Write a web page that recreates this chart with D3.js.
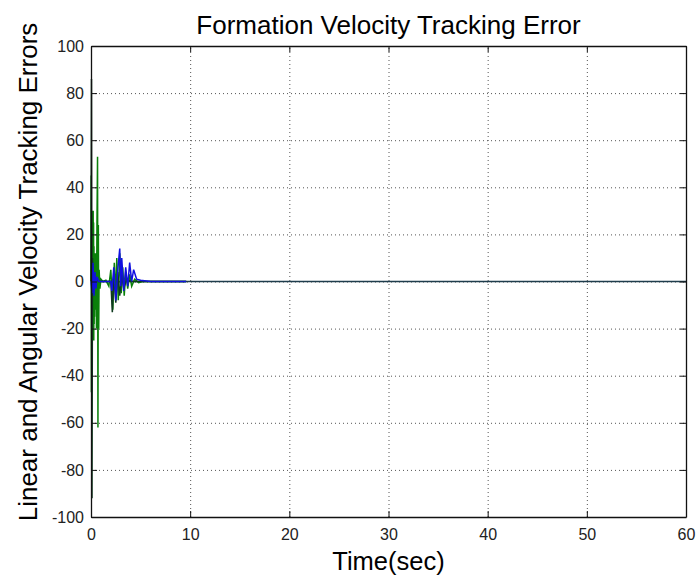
<!DOCTYPE html>
<html>
<head>
<meta charset="utf-8">
<script src="https://cdn.jsdelivr.net/npm/d3@7"></script>
<style>
  body { margin: 0; background: #fff; }
  svg { display: block; }
</style>
</head>
<body>
<div id="chart"></div>
<script>
// tick values
const xTicks = [0, 10, 20, 30, 40, 50, 60];
const yTicks = [-100, -80, -60, -40, -20, 0, 20, 40, 60, 80, 100];

// green trace (time, value)
const greenT = [0, 0.02, 0.04, 0.06, 0.08, 0.1, 0.12, 0.14, 0.16, 0.18, 0.2, 0.22, 0.24, 0.26, 0.28, 0.3, 0.32, 0.34, 0.36, 0.38, 0.4, 0.42, 0.44, 0.46, 0.5, 0.55, 0.6, 0.66, 0.7, 0.74, 0.78, 0.82, 0.9, 1.0, 1.2, 1.5, 1.8, 2.0, 2.2, 2.35, 2.5, 2.6, 2.75, 2.9, 3.05, 3.2, 3.35, 3.5, 3.7, 3.9, 4.1, 4.4, 4.8, 5.2, 9.6];
const greenV = [0, 45, -47, 28, -30, 30, -22, 20, -25, 18, -10, 30, -20, 25, -25, 15, -18, 10, -15, 12, -12, 5, -10, 8, 12, -20, 24, 53, -62, 24, -20, 5, -3, 1, 0, 0.5, -2, 5, -12, 8, -6, 10, -8, 12, -5, 6, -6, 4, -3, 3, -2, 1, -0.5, 0, 0];

// dark trace, the tall first spike and the dip near t = 2
const darkT = [0, 0.05, 0.1, 0.15, 0.2, 0.3, 0.4, 0.6, 0.8, 1.0, 2.0, 2.15, 2.3, 2.5, 2.7, 2.9, 3.1, 3.3, 3.6, 4.0, 9.6];
const darkV = [0, 86, -92, 10, -5, 3, -2, 1, 0, 0, 0, -13, 3, -9, 4, -6, 3, -3, 1, 0, 0];

// blue trace
const blueT = [0, 0.1, 0.2, 0.3, 0.4, 0.5, 0.6, 0.8, 2.0, 2.1, 2.3, 2.5, 2.7, 2.9, 3.0, 3.1, 3.3, 3.5, 3.7, 3.9, 4.1, 4.3, 4.6, 5.0, 6.0, 9.6];
const blueV = [0, -5, 8, -6, 4, -3, 2, 0, 0, -4, 6, -8, 5, 14, -2, 10, -4, 6, -2, 8, 0, 5, 1, 0.5, 0, 0];

// zero-level trace over the whole run
const refT = [0, 60];
const refV = [0, 0];

const W = 696, H = 579;
const margin = { top: 46, right: 10, bottom: 62, left: 91 };
const width = W - margin.left - margin.right;
const height = H - margin.top - margin.bottom;

const svg = d3.select('#chart').append('svg')
    .attr('width', W)
    .attr('height', H)
    .style('font-family', '"Liberation Sans", Arial, sans-serif');

const g = svg.append('g')
    .attr('transform', `translate(${margin.left},${margin.top})`);

const x = d3.scaleLinear().domain([0, 60]).range([0, width]);
const y = d3.scaleLinear().domain([-100, 100]).range([height, 0]);

// dotted grid
g.append('g')
    .attr('class', 'grid')
    .attr('transform', `translate(0,${height})`)
    .call(d3.axisBottom(x).tickValues(xTicks).tickSize(-height).tickFormat(''));
g.append('g')
    .attr('class', 'grid')
    .call(d3.axisLeft(y).tickValues(yTicks).tickSize(-width).tickFormat(''));
g.selectAll('.grid .domain').remove();
g.selectAll('.grid line')
    .attr('stroke', '#555')
    .attr('stroke-width', 1)
    .attr('stroke-dasharray', '1,3');

// traces
const line = d3.line().x(d => x(d[0])).y(d => y(d[1]));
const series = [
    { t: refT, v: refV, color: '#1e3c4c' },
    { t: greenT, v: greenV, color: '#0a800a' },
    { t: darkT, v: darkV, color: '#0f3a1f' },
    { t: blueT, v: blueV, color: '#1010e0' }
];
series.forEach(s => {
    g.append('path')
        .datum(s.t.map((t, i) => [t, s.v[i]]))
        .attr('fill', 'none')
        .attr('stroke', s.color)
        .attr('stroke-width', 1.5)
        .attr('d', line);
});

// axes with inward ticks on all four sides
const fmt = d => String(d);
const xAxis = g.append('g')
    .attr('transform', `translate(0,${height})`)
    .call(d3.axisBottom(x).tickValues(xTicks).tickSizeInner(-6).tickSizeOuter(0).tickPadding(12).tickFormat(fmt));
const yAxis = g.append('g')
    .call(d3.axisLeft(y).tickValues(yTicks).tickSizeInner(-6).tickSizeOuter(0).tickPadding(7).tickFormat(fmt));
g.append('g')
    .call(d3.axisTop(x).tickValues(xTicks).tickSizeInner(-6).tickSizeOuter(0).tickFormat(''));
g.append('g')
    .attr('transform', `translate(${width},0)`)
    .call(d3.axisRight(y).tickValues(yTicks).tickSizeInner(-6).tickSizeOuter(0).tickFormat(''));

g.selectAll('.domain').attr('stroke', '#111').attr('stroke-width', 1.3);
g.selectAll('.tick line:not(.grid line)').attr('stroke', '#111');
[xAxis, yAxis].forEach(a => a.selectAll('text')
    .attr('fill', '#222')
    .style('font-size', '16px')
    .style('font-family', '"Liberation Sans", Arial, sans-serif'));

// title and axis labels
svg.append('text')
    .attr('x', margin.left + width / 2)
    .attr('y', 34)
    .attr('text-anchor', 'middle')
    .style('font-size', '26px')
    .attr('fill', '#000')
    .text('Formation Velocity Tracking Error');

svg.append('text')
    .attr('x', margin.left + width / 2)
    .attr('y', 570)
    .attr('text-anchor', 'middle')
    .style('font-size', '25.5px')
    .attr('fill', '#000')
    .text('Time(sec)');

svg.append('text')
    .attr('transform', `translate(37,${272}) rotate(-90)`)
    .attr('text-anchor', 'middle')
    .style('font-size', '26px')
    .attr('fill', '#000')
    .text('Linear and Angular Velocity Tracking Errors');
</script>
</body>
</html>
